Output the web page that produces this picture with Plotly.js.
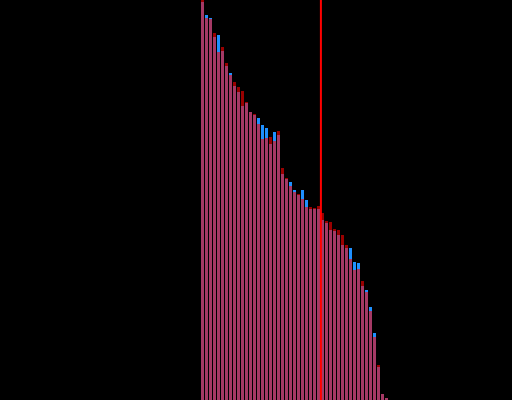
<!DOCTYPE html>
<html>
<head>
<meta charset="utf-8">
<script src="https://cdn.plot.ly/plotly-3.0.1.min.js"></script>
<style>html,body{margin:0;padding:0;background:#000;}#chart{width:512px;height:400px;}</style>
</head>
<body>
<div id="chart"></div>
<script>
var positions = [1,2,3,4,5,6,7,8,9,10,11,12,13,14,15,16,17,18,19,20,21,22,23,24,25,26,27,28,29,30,31,32,33,34,35,36,37,38,39,40,41,42,43,44,45,46,47];
var seriesB = [398,385,382,363,365,349,334,327,314,308,294,297,288,285,282,275,272,256,268,265,226,221,218,210,205,210,200,191,191,191,180,177,170,169,165,155,152,152,138,137,114,110,93,67,33,6,2];
var seriesA = [405,382,381,367,348,353,337,325,318,313,309,298,288,286,276,261,262,263,259,269,232,222,214,208,206,201,193,193,192,194,187,179,178,171,170,165,155,141,130,131,119,108,89,63,35,6,2];
var cutoff = 30.6;

var data = [
  {type:'bar', x:positions, y:seriesB, marker:{color:'#1e90ff', line:{width:0}}, hoverinfo:'none'},
  {type:'bar', x:positions, y:seriesA, marker:{color:'#ff0000', line:{width:0}}, opacity:0.6, hoverinfo:'none'}
];
var layout = {
  width:512, height:400,
  margin:{l:0,r:0,t:0,b:0,pad:0},
  paper_bgcolor:'#000', plot_bgcolor:'#000',
  barmode:'overlay', bargap:0.25,
  showlegend:false,
  xaxis:{range:[-49.625,78.375], visible:false, showgrid:false, zeroline:false},
  yaxis:{range:[0,400], visible:false, showgrid:false, zeroline:false},
  shapes:[{type:'line', xref:'x', yref:'paper', x0:cutoff, x1:cutoff, y0:0, y1:1, line:{color:'#ff0000', width:2}}]
};
Plotly.newPlot('chart', data, layout, {staticPlot:true, displayModeBar:false});
</script>
</body>
</html>
